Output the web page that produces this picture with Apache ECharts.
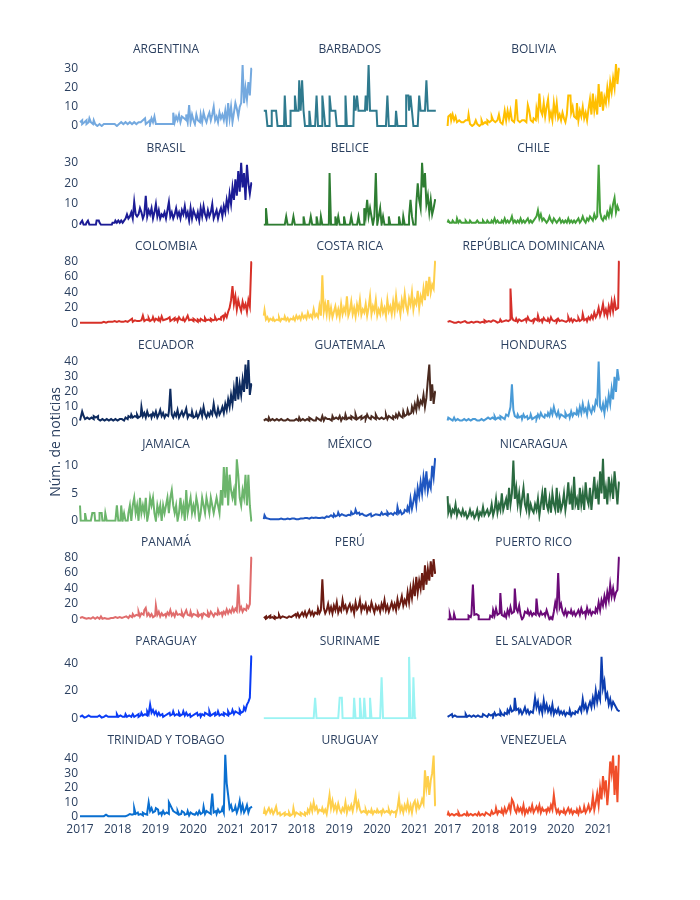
<!DOCTYPE html>
<html><head><meta charset="utf-8">
<script src="https://cdn.jsdelivr.net/npm/echarts@6/dist/echarts.min.js"></script>
<style>html,body{margin:0;padding:0;background:#fff}#chart{width:700px;height:900px}</style>
</head><body><div id="chart"></div>
<script>
// ---- time sampling (one point every 14 days from 2017-01-01) ----
const START_YEAR = 2017;
const STEP_DAYS = 14;
const N_POINTS = 120;
const xYears = [];
for (let i = 0; i < N_POINTS; i++) xYears.push(START_YEAR + i * STEP_DAYS / 365.25);

const countries = ['ARGENTINA','BARBADOS','BOLIVIA','BRASIL','BELICE','CHILE','COLOMBIA','COSTA RICA','REPÚBLICA DOMINICANA','ECUADOR','GUATEMALA','HONDURAS','JAMAICA','MÉXICO','NICARAGUA','PANAMÁ','PERÚ','PUERTO RICO','PARAGUAY','SURINAME','EL SALVADOR','TRINIDAD Y TOBAGO','URUGUAY','VENEZUELA'];
const colors = ['#74a9df','#2f7a8e','#ffbf00','#1c1c96','#2e7d32','#43a03a','#d73027','#fecf4b','#d62f2a','#0e2b5f','#4a2a20','#4a9bd7','#6cb56c','#1f56c1','#2a6a40','#e06c6c','#6b1b12','#6b0a78','#0a3cf5','#9af3f3','#0c3db0','#0a6fd0','#fecf4b','#f04e2a'];
const rowTickStep = [10,10,20,10,5,20,20,10];
const yAxisTitle = 'Núm. de noticias';

const argentina = [2,3,1,2,3,1,2,4,2,1, 3,1,0,1,1,0,1,0,1,1, 0,1,1,0,1,0,1,1,2,1, 1,2,3,1,2,1,1,2,3,1, 2,1,2,3,2,4,1,2,3,1, 4,2,5,1,1,1,1,1,1,1, 1,1,1,1,1,7,2,5,3,6, 2,5,4,3,6,2,11,2,6,3, 1,6,3,2,6,2,7,4,2,5, 7,3,6,10,3,5,2,7,4,6, 3,8,2,12,4,10,2,7,12,9, 5,10,12,32,12,20,14,23,16,30];
const barbados = [8,8,8,0,0,0,8,8,8,8, 0,0,0,0,0,16,0,0,0,8, 8,8,16,8,8,24,8,24,8,0, 0,0,8,0,0,0,0,16,0,0, 0,16,8,0,0,0,16,8,8,8, 8,0,0,0,0,0,0,16,0,0, 0,0,0,16,8,16,8,8,8,8, 8,16,8,32,8,8,8,8,8,0, 0,0,0,0,0,0,16,0,0,0, 0,0,8,0,0,0,0,0,0,16, 16,8,16,8,0,0,0,0,16,8, 8,8,8,24,8,8,8,8,8,8];
const bolivia = [0,5,6,3,6,3,5,2,3,2, 3,2,3,2,3,6,1,0,1,1, 3,1,0,1,3,1,2,1,3,2, 3,5,3,2,3,2,6,2,1,3, 8,3,8,4,8,3,2,4,14,3, 2,3,2,3,2,2,11,8,3,2, 4,3,9,5,17,8,6,12,5,10, 14,4,7,3,12,6,12,4,6,3, 7,4,2,6,16,16,7,10,5,4, 12,3,8,5,10,4,7,3,9,14, 6,17,8,13,6,22,10,18,8,15, 12,20,14,23,18,25,20,32.5,22,30];
const brasil = [0,1,2,0,0,1,2,0,0,0, 0,0,2,2,1,0,0,0,0,0, 0,0,0,1,1,2,1,2,1,2, 1,2,3,5,3,4,6,3,11,5, 4,5,8,6,3,5,14,4,7,5, 8,3,6,10,4,7,3,5,4,6, 3,7,11,4,6,3,5,8,4,6, 3,7,5,9,4,6,2,8,3,7, 5,3,6,2,8,4,9,5,3,7, 4,6,10,3,5,7,3,6,8,4, 9,6,12,8,15,10,18,12,22,14, 26,16,30,18,25,12,29,20,15,20];
const belice = [0,0,8,0,0,0,0,0,0,0, 0,0,0,0,0,0,4,0,0,0, 0,4,0,0,0,0,0,0,4,0, 0,0,0,4,0,0,0,4,0,0, 4,0,0,0,0,0,25,0,0,0, 4,0,4,0,0,0,4,0,0,0, 0,4,0,0,0,0,4,0,0,0, 8,4,12,4,8,4,0,4,25,0, 4,8,0,4,0,0,0,4,0,0, 0,0,0,0,4,0,0,4,0,0, 0,4,12,4,0,0,10,20,12,8, 30,18,25,10,14,6,12,5,8,12];
const chile = [1,2,1,1,2,1,1,3,1,2, 1,1,1,2,1,1,2,1,1,1, 1,2,1,1,1,2,1,1,2,1, 1,2,1,3,1,2,1,1,2,1, 3,1,2,1,2,4,1,2,1,2, 1,3,1,2,1,2,3,1,2,1, 2,3,4,7,3,5,2,3,2,1, 2,4,2,1,3,2,1,2,3,1, 2,1,2,1,3,1,2,1,2,1, 2,3,1,2,4,2,1,3,2,4, 3,2,5,3,4,29,6,3,2,4, 3,6,4,8,5,10,13,6,9,7];
const colombia = [1,1,2,1,1,2,1,1,2,1, 1,2,1,1,2,1,2,1,1,2, 1,2,2,1,3,2,2,3,2,4, 2,3,5,2,4,3,6,2,4,3, 5,3,4,6,10,3,5,4,7,3, 5,8,3,6,4,7,3,9,4,5, 6,4,8,3,5,7,4,6,3,8, 5,4,7,3,6,10,4,5,3,6, 4,2,5,3,6,4,3,7,4,5, 3,6,4,5,8,4,6,5,8,10, 6,12,8,15,20,30,48,25,35,18, 30,22,16,28,20,25,15,30,22,79];
const costaRica = [10,17,5,8,3,6,4,7,3,5, 4,8,3,6,5,9,4,7,3,6, 5,8,4,10,6,9,5,12,7,10, 6,14,8,11,7,18,9,12,8,22, 10,62,15,25,12,30,10,20,8,15, 22,10,18,8,25,12,20,14,35,10, 16,28,12,20,9,24,15,30,11,18, 14,25,10,20,35,12,22,16,30,10, 18,12,26,14,20,10,30,16,22,12, 28,15,35,18,24,12,30,20,38,22, 15,32,24,40,18,30,25,42,20,35, 28,45,30,55,35,60,40,50,45,80];
const repDominicana = [2,3,1,2,1,3,1,2,4,1, 2,1,3,1,2,1,2,3,1,2, 1,2,1,3,2,1,4,2,3,1, 2,4,2,3,1,3,2,5,2,3, 4,2,3,5,45,8,4,3,6,2, 5,3,4,2,6,3,8,4,3,5, 2,6,4,10,3,5,2,7,4,3, 6,2,8,4,3,5,2,6,3,4, 3,5,2,4,8,3,6,2,5,3, 4,7,3,5,12,4,6,3,8,5, 10,6,14,8,12,20,10,16,25,12, 18,10,22,14,28,16,30,18,20,80];
const ecuador = [1,3,7,4,2,3,2,1,3,2, 4,3,4,2,1,2,1,1,2,1, 1,2,1,1,2,1,1,2,1,2, 1,2,3,2,4,3,5,3,4,3, 5,3,4,10,4,6,3,7,4,5, 3,6,4,7,3,5,8,4,6,3, 5,4,7,22,5,3,6,4,8,3, 5,7,4,6,9,3,5,4,7,3, 4,6,3,5,8,4,10,5,3,6, 4,7,5,12,6,4,9,5,7,10, 6,12,8,15,10,18,12,22,14,30, 15,25,18,28,20,38,22,41,18,25];
const guatemala = [1,2,1,1,3,1,2,1,1,2, 1,1,2,1,1,1,2,1,1,1, 1,1,2,1,1,3,1,2,1,1, 2,1,3,2,1,2,1,3,2,1, 2,4,1,3,2,2,3,1,4,2, 3,2,2,4,1,3,2,5,2,3, 2,4,3,2,5,2,3,4,2,3, 4,2,5,3,2,4,3,2,5,3, 2,3,4,2,3,5,2,4,3,2, 4,3,5,3,6,4,3,7,4,5, 8,5,6,10,7,12,8,15,10,14, 12,18,10,16,28,38,14,25,12,20];
const honduras = [1,3,2,1,2,3,1,2,1,2, 1,2,1,1,2,1,1,2,1,2, 1,2,1,2,3,1,2,1,3,2, 2,3,2,4,2,3,2,4,3,2, 3,5,4,6,10,25,8,4,3,5, 3,4,2,5,3,4,2,3,5,2, 3,4,2,5,3,6,4,3,5,4, 6,4,8,5,10,6,4,7,3,5, 4,3,6,4,5,3,7,4,6,5, 8,5,10,6,12,7,9,5,12,8, 6,10,8,14,12,40,10,8,12,6, 14,10,18,12,22,15,30,20,35,28];
const jamaica = [2.8,0,0,0,1.4,0,0,0,0,1.4, 1.4,0,0,0,1.4,1.4,0,0,1.4,0, 0,0,0,0,0,0,2.8,0,0,2.8, 0,1.4,0,0,1.4,2.8,0,2.8,4.2,1.4, 2.8,0,4.2,1.4,2.8,1.4,4.2,0,1.4,4.2, 2.8,4.2,1.4,0,2.8,1.4,2.8,0,2.8,1.4, 2.8,4.2,1.4,4.2,5.6,2.8,1.4,2.8,0,1.4, 4.2,1.4,2.8,0,5.6,1.4,2.8,4.2,1.4,2.8, 1.4,4.2,2.8,0,1.4,4.2,2.8,1.4,4.2,2.8, 1.4,4.2,2.8,1.4,2.8,4.2,2.8,1.4,5.6,2.8, 9.8,4.2,9.8,2.8,8.4,5.6,4.2,5.6,2.8,11.2, 8.4,4.2,2.8,5.6,4.2,8.4,2.8,8.4,2.8,0];
const mexico = [0.3,1,0.5,0.4,0.3,0.4,0.3,0.3,0.4,0.3, 0.3,0.3,0.4,0.3,0.3,0.3,0.4,0.3,0.3,0.4, 0.3,0.4,0.3,0.4,0.3,0.4,0.5,0.4,0.5,0.4, 0.5,0.4,0.5,0.6,0.5,0.4,0.6,0.5,0.6,0.5, 0.6,0.7,0.5,0.8,0.6,0.7,1,0.8,0.7,1.2, 0.8,1,1.5,0.9,1.2,1,1.3,0.9,1.1,0.8, 1,1.6,1.2,1.4,2,1.3,1.5,1.1,1.3,1, 1.2,0.9,1.1,1,1.3,0.8,1,1.2,0.9,1.1, 1,1.2,1.5,1.1,1.3,1,1.6,1.2,1.4,1.1, 1.3,1.5,1.2,2.5,1.4,1.8,1.2,1.5,2,1.7, 2.5,1.8,4,2.2,3.5,5,3,6,4.5,7, 5,8,6,9,5.5,7,6,10,8,11.3];
const nicaragua = [4.5,1.5,2.5,1,2,1.5,3,1,2,1.5, 1,2,1,1.5,0.5,1,2,1,1.5,0.5, 1,2,0.5,1.5,1,2.5,1,1.5,2,1, 1.5,3,1,2,4,1.5,3,2,5,2, 3,4,2,6,3,5,11,4,6,3, 5,2,4,6,3,2,5,1.5,3,2, 1.5,3,2,4,1,3,5,2,6,3, 2,4,1.5,5,3,2,6,1.5,4,2, 3,5,2,4,7,3,5,2,8,3, 4,2,6,3,5,2,7,4,3,6, 2,5,8,4,6,3,9,5,11.3,4, 6,3,8,5,7,4,9,6,3,7];
const panama = [2,3,1,2,1,3,2,1,2,3, 1,2,3,1,2,4,1,2,1,3, 1,2,1,2,3,1,2,3,1,2, 3,2,4,2,3,5,3,7,4,6, 5,10,4,8,6,12,15,5,8,4, 7,3,5,18,6,10,4,8,5,7, 4,9,6,12,5,8,4,10,6,7, 5,9,4,8,12,6,5,10,4,7, 6,4,9,5,7,3,8,6,4,9, 5,10,7,4,8,6,12,7,9,5, 10,7,13,8,12,9,15,10,14,11, 45,12,16,10,14,12,18,15,20,80];
const peru = [2,4,1,3,5,2,3,1,4,2, 3,6,2,4,3,5,2,4,6,3, 5,3,7,4,8,3,6,9,5,10, 4,8,12,6,10,5,9,7,14,8, 12,52,15,8,12,20,10,16,8,18, 12,22,9,15,11,25,14,18,10,16, 20,12,17,8,22,13,16,25,11,18, 14,20,10,16,12,22,15,9,18,13, 17,10,20,14,25,12,18,10,16,22, 14,20,12,26,16,22,30,18,25,20, 35,22,40,28,45,30,55,35,50,40, 60,38,70,45,65,50,75,55,78,60];
const puertoRico = [0,0,7,0,0,7,0,0,0,0, 0,0,0,0,0,5,3,7,45,6, 7,5,0,0,0,0,0,0,0,0, 5,3,12,5,14,6,8,34,6,4, 8,3,12,6,16,8,10,40,14,10, 18,6,0,3,10,8,12,6,10,5, 8,6,27,8,5,10,6,8,5,12, 6,0,3,0,10,22,14,60,15,20, 10,6,12,5,10,8,12,6,10,5, 8,12,6,14,8,10,5,15,8,12, 6,10,8,14,10,22,12,25,18,30, 20,35,25,45,30,40,28,35,38,80];
const paraguay = [1,2,1,0.5,1,1,2,1,0.5,1, 1,0.5,1,2,1,0.5,1,1,2,1, 0.5,1,1,2,1,1,3,1,2,1, 2,1,3,1,2,1,2,3,1,2, 3,1,2,4,2,3,2,5,3,10, 4,6,3,5,2,4,2,3,1,2, 3,2,4,2,3,5,2,3,2,4, 2,3,5,2,4,2,3,1,2,3, 2,4,2,3,1,3,2,4,3,2, 5,2,3,4,2,3,5,2,3,2, 4,3,2,5,3,4,6,3,5,4, 3,6,4,5,8,6,10,12,15,45.5];
const suriname = [0,0,0,0,0,0,0,0,0,0, 0,0,0,0,0,0,0,0,0,0, 0,0,0,0,0,0,0,0,0,0, 0,0,0,0,0,0,15,0,0,0, 0,0,0,0,0,0,0,0,0,0, 0,0,0,15,15,0,0,0,0,0, 0,0,0,15,0,0,0,15,0,0, 15,0,0,0,15,0,0,0,0,0, 0,0,30,0,0,0,0,0,0,0, 0,0,0,0,0,0,0,0,0,0, 0,45,0,0,30,0,null,null,null,null, null,null,null,null,null,null,null,null,null,null];
const elSalvador = [1,2,1,3,1,2,1,2,1,1, 2,1,1,3,1,2,1,1,2,1, 1,2,1,2,1,3,2,1,2,3, 2,3,1,4,2,3,2,5,3,2, 4,3,6,4,8,5,6,15,6,7, 4,6,3,5,8,4,6,3,5,4, 7,15,8,12,5,9,4,13,6,10, 5,8,4,10,3,6,4,7,3,5, 3,5,2,4,3,6,2,4,3,5, 4,6,8,5,14,7,10,5,9,12, 8,15,10,20,12,18,14,45,22,27, 15,18,10,14,8,12,10,8,6,5];
const trinidad = [0.5,0.5,0.5,0.5,0.5,0.5,0.5,0.5,0.5,0.5, 0.5,0.5,0.5,0.5,0.5,0.5,0.5,0.5,1.5,0.5, 0.5,0.5,0.5,0.5,0.5,0.5,0.5,0.5,0.5,0.5, 0.5,0.5,0.5,1,2,1,1.5,2,6,2, 3,1.5,2,1,3,2,1.5,3,10,4, 6,3,4,6,5,2,3,1.5,4,2, 3,2,10,8,6,4,3,2,4,1.5, 2,4,3,1.5,2,4,1,3,2,1.5, 2,3,1.5,4,2,3,7,2,4,3, 2,5,16,3,4,2,5,3,4,6, 3,42.5,23,15,6,8,4,5,7,3, 6,11,4,8,3,5,8,3,6,7];
const uruguay = [2,5,2,4,6,3,5,2,4,7, 2,3,1,2,3,1,2,1,3,1, 2,6,1,3,2,1,3,2,1,3, 2,5,3,8,4,10,5,7,3,5, 4,6,3,5,2,8,15,6,11,5, 8,4,9,5,3,6,4,10,3,7, 5,8,4,9,15,6,10,5,3,4, 3,5,2,4,3,5,2,4,3,5, 3,4,2,5,3,4,3,5,2,4, 3,4,2,6,13,4,7,3,8,5, 10,4,8,3,9,11,5,10,6,8, 12,9,32,20,28,15,25,30,42,8];
const venezuela = [1,3,1,2,1,1,2,1,3,1, 1,2,1,1,3,1,2,1,1,2, 1,2,3,1,2,1,1,3,2,1, 2,4,2,3,6,2,4,3,5,2, 6,3,5,8,4,12,10,5,3,7, 4,6,3,8,2,5,3,6,4,8, 3,5,7,4,8,3,6,4,5,3, 6,4,8,5,15,7,3,5,2,4, 3,5,2,4,6,3,5,2,4,3, 5,2,6,3,4,7,3,5,8,4, 6,14,5,10,16,8,20,12,28,18, 25,8,20,38,30,42,15,35,10,42];

const allValues = [argentina,barbados,bolivia,brasil,belice,chile,colombia,costaRica,repDominicana,ecuador,guatemala,honduras,jamaica,mexico,nicaragua,panama,peru,puertoRico,paraguay,suriname,elSalvador,trinidad,uruguay,venezuela];

// ---- layout ----
const TEXT = '#2a3f5f';
const FONT = '"Open Sans", verdana, arial, sans-serif';
const PANEL_W = 172, PANEL_H = 62;
const colLeft = c => 80 + c * 183.8;
const rowTop = r => 64 + r * 98.7;

const grids = [], xAxes = [], yAxes = [], series = [], graphics = [];
for (let k = 0; k < 24; k++) {
  const r = Math.floor(k / 3), c = k % 3;
  const left = colLeft(c), top = rowTop(r);
  const rowMax = Math.max(...[0,1,2].map(j => Math.max(...allValues[r*3+j].filter(v => v !== null))));
  const step = rowTickStep[r];
  grids.push({left: left, top: top, width: PANEL_W, height: PANEL_H, containLabel: false, outerBoundsMode: 'none'});
  xAxes.push({
    gridIndex: k, type: 'value', min: xYears[0], max: xYears[N_POINTS-1], interval: 1,
    axisLine: {show: false}, axisTick: {show: false}, splitLine: {show: false},
    axisLabel: {show: r === 7, margin: 7, color: TEXT, fontSize: 12, fontFamily: FONT,
      showMaxLabel: true, showMinLabel: true,
      formatter: v => Math.abs(v - Math.round(v)) < 1e-6 ? String(Math.round(v)) : ''}
  });
  yAxes.push({
    gridIndex: k, type: 'value', min: 0, max: rowMax, interval: step,
    axisLine: {show: false}, axisTick: {show: false}, splitLine: {show: false},
    axisLabel: {show: c === 0, margin: 2, color: TEXT, fontSize: 12, fontFamily: FONT,
      formatter: v => Math.abs(v / step - Math.round(v / step)) < 1e-6 ? String(Math.round(v)) : ''}
  });
  series.push({
    type: 'line', xAxisIndex: k, yAxisIndex: k, name: countries[k],
    data: xYears.map((x, i) => [x, allValues[k][i] === undefined ? null : allValues[k][i]]),
    step: 'middle',
    showSymbol: false, symbol: 'none', connectNulls: false,
    lineStyle: {width: 2, color: colors[k], join: 'miter'}, itemStyle: {color: colors[k]},
    emphasis: {disabled: true}
  });
  graphics.push({
    type: 'text', x: left + PANEL_W / 2, y: top - 14.5,
    style: {text: countries[k], fill: TEXT, font: '12px ' + FONT, align: 'center', verticalAlign: 'middle'}
  });
}
graphics.push({
  type: 'text', x: 56, y: 442, rotation: Math.PI / 2,
  style: {text: yAxisTitle, fill: TEXT, font: '14px ' + FONT, align: 'center', verticalAlign: 'middle'}
});

const chart = echarts.init(document.getElementById('chart'), null, {renderer: 'canvas'});
chart.setOption({
  animation: false,
  backgroundColor: '#fff',
  grid: grids, xAxis: xAxes, yAxis: yAxes, series: series,
  graphic: graphics
});
</script></body></html>
